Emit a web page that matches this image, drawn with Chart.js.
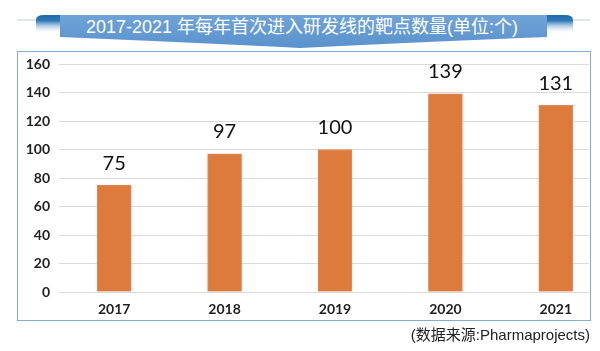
<!DOCTYPE html>
<html>
<head>
<meta charset="utf-8">
<script src="https://cdn.jsdelivr.net/npm/chart.js@4.4.0/dist/chart.umd.min.js"></script>
<style>
    body { margin: 0; width: 600px; height: 351px; background: #fff; position: relative; overflow: hidden; }
    #banner { position: absolute; left: 0; top: 0; }
    #title {
        position: absolute; left: 2px; top: 14px; width: 600px; text-align: center;
        color: #fff; font: 18px "Liberation Sans", "Noto Sans CJK SC", sans-serif; line-height: 26px;
    }
    #frame {
        position: absolute; left: 17px; top: 51px; width: 572px; height: 268px;
        border: 1.5px solid #87abd9;
    }
    #wrap { position: absolute; left: 0; top: 0; width: 589px; height: 351px; overflow: hidden; }
    #source {
        position: absolute; right: 10px; top: 323px;
        font: 15px "Liberation Sans", "Noto Sans CJK SC", sans-serif; color: #222;
    }
</style>
</head>
<body>
<svg id="banner" width="600" height="60">
    <defs>
        <linearGradient id="g" x1="0" y1="0" x2="0" y2="1">
            <stop offset="0" stop-color="#6fa3d8"/>
            <stop offset="1" stop-color="#5b92cc"/>
        </linearGradient>
        <linearGradient id="tail" x1="0" y1="0" x2="0" y2="1">
            <stop offset="0" stop-color="#1f6aaa"/>
            <stop offset="0.3" stop-color="#2f79b8"/>
            <stop offset="1" stop-color="#ffffff" stop-opacity="0"/>
        </linearGradient>
    </defs>
    <line x1="17" y1="20" x2="590" y2="20" stroke="#e1e6ec" stroke-width="2"/>
    <path d="M36 20 Q36 15 44 15 L62 15 L62 34 L36 34 Z" fill="url(#tail)"/>
    <path d="M545 15 L565 15 Q573 15 573 20 L573 34 L545 34 Z" fill="url(#tail)"/>
    <path d="M60 15 L547 15 L547 37 Q420 42 300 48 Q180 42 60 37 Z" fill="url(#g)"/>
</svg>
<div id="title">2017-2021 年每年首次进入研发线的靶点数量(单位:个)</div>
<div id="wrap"><canvas id="chart" width="620" height="351"></canvas></div>
<div id="frame"></div>
<div id="source">(数据来源:Pharmaprojects)</div>
<script>
const years = ['2017', '2018', '2019', '2020', '2021'];
const targets = [75, 97, 100, 139, 131];

// value labels above bars
const valueLabels = {
    id: 'valueLabels',
    afterDatasetsDraw(chart) {
        const ctx = chart.ctx;
        ctx.save();
        ctx.font = '20px Lato, sans-serif';
        ctx.fillStyle = '#111';
        ctx.textAlign = 'center';
        ctx.textBaseline = 'middle';
        chart.getDatasetMeta(0).data.forEach((bar, i) => {
            ctx.fillText(targets[i], bar.x, bar.y - 22);
        });
        ctx.restore();
    }
};

new Chart(document.getElementById('chart').getContext('2d'), {
    type: 'bar',
    data: {
        labels: years,
        datasets: [{
            data: targets,
            backgroundColor: '#dc7b3b',
            borderColor: '#e6895a',
            borderWidth: 1,
            barThickness: 34
        }]
    },
    options: {
        responsive: false,
        animation: false,
        layout: { padding: { top: 64, right: 9, left: 0, bottom: 0 } },
        plugins: {
            legend: { display: false },
            tooltip: { enabled: false }
        },
        scales: {
            x: {
                grid: { display: false, drawTicks: false },
                border: { color: '#d9d9d9', width: 1 },
                ticks: { padding: 9, color: '#222', font: { family: 'Lato', size: 14, weight: 'bold' } },
                afterFit: (scale) => { scale.height = 59; }
            },
            y: {
                min: 0,
                max: 160,
                ticks: { stepSize: 20, padding: 9, color: '#222', font: { family: 'Lato', size: 14, weight: 'bold' } },
                grid: { color: '#d9d9d9', lineWidth: 1, drawTicks: false },
                border: { display: false },
                afterFit: (scale) => { scale.width = 59; }
            }
        }
    },
    plugins: [valueLabels]
});
</script>
</body>
</html>
